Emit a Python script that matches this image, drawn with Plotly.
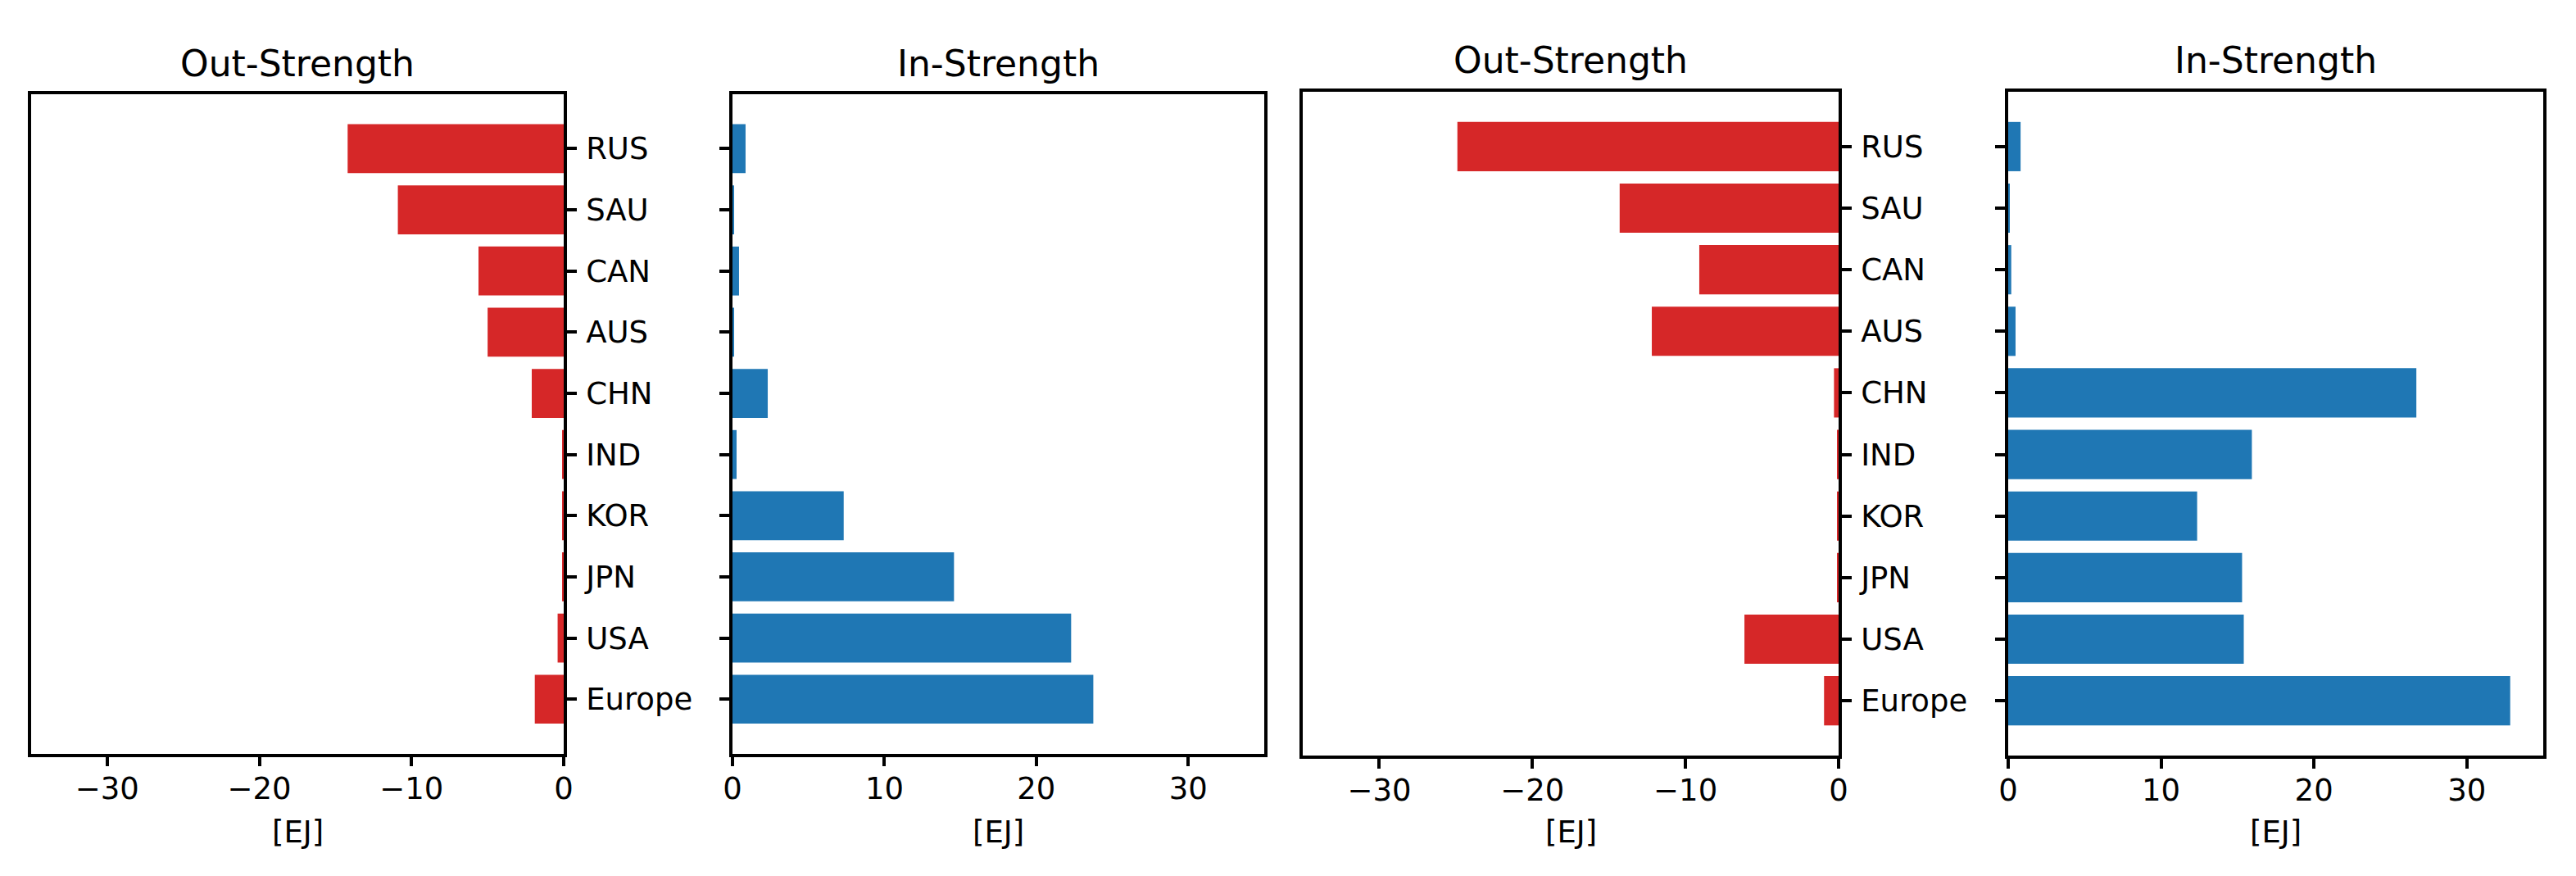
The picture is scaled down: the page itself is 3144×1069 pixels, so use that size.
import plotly.graph_objects as go

# ---- data ----
countries = ["RUS", "SAU", "CAN", "AUS", "CHN", "IND", "KOR", "JPN", "USA", "Europe"]
out_left = [-14.2, -10.9, -5.6, -5.0, -2.1, -0.06, -0.06, -0.06, -0.4, -1.9]
in_left = [0.86, 0.06, 0.43, 0.06, 2.32, 0.27, 7.32, 14.58, 22.29, 23.75]
out_right = [-24.9, -14.3, -9.1, -12.2, -0.3, -0.06, -0.06, -0.06, -6.15, -0.95]
in_right = [0.81, 0.06, 0.2, 0.48, 26.7, 15.94, 12.36, 15.3, 15.41, 32.84]
titles = ["Out-Strength", "In-Strength", "Out-Strength", "In-Strength"]
xlabel = "[EJ]"
x_ticks_out = [-30, -20, -10, 0]
x_ticks_in = [0, 10, 20, 30]

RED = "#d62728"
BLUE = "#1f77b4"
W, H = 3144, 1069
FONT = "DejaVu Sans"
OFF = 8  # page body margin offset

# panel pixel boxes in page coords (left, right, top, bottom)
boxes = [
    (38, 688, 115, 919.7),
    (894, 1543, 115, 919.7),
    (1590, 2244, 112, 922),
    (2451, 3104, 112, 922),
]
series = [out_left, in_left, out_right, in_right]
colors = [RED, BLUE, RED, BLUE]


def px(xp):
    return (xp - OFF) / W


def py(yp):
    return 1 - (yp - OFF) / H


fig = go.Figure()
cat_order = list(reversed(countries))

for i, (vals, col) in enumerate(zip(series, colors)):
    n = i + 1
    fig.add_trace(go.Bar(
        x=vals, y=countries, orientation="h",
        marker=dict(color=col, line=dict(width=0)),
        width=0.8, showlegend=False,
        xaxis=f"x{n}", yaxis=f"y{n}",
    ))

layout = dict(
    template="none",
    width=W, height=H, autosize=False,
    margin=dict(l=0, r=0, t=0, b=0, pad=0),
    paper_bgcolor="white", plot_bgcolor="white",
    font=dict(family=FONT, size=37, color="black"),
    bargap=0.2,
)

annotations = []
for i, (l, r, t, b) in enumerate(boxes):
    n = i + 1
    sfx = "" if n == 1 else str(n)
    is_out = i % 2 == 0
    xt = x_ticks_out if is_out else x_ticks_in
    layout[f"xaxis{sfx}"] = dict(
        domain=[px(l), px(r)],
        anchor=f"y{n}",
        range=[-35, 0] if is_out else [0, 35],
        tickmode="array",
        tickvals=xt,
        ticktext=[("\u2212" + str(abs(v))) if v < 0 else str(v) for v in xt],
        ticks="outside", ticklen=12, tickwidth=3.5, tickcolor="black",
        ticklabelstandoff=-5,
        showline=True, linecolor="black", linewidth=3.5, mirror=True,
        showgrid=False, zeroline=False, automargin=False,
        tickfont=dict(family=FONT, size=37, color="black"),
        fixedrange=True,
    )
    layout[f"yaxis{sfx}"] = dict(
        domain=[py(b), py(t)],
        anchor=f"x{n}",
        type="category",
        categoryorder="array", categoryarray=cat_order,
        range=[-0.89, 9.89],
        side="right" if is_out else "left",
        showticklabels=is_out,
        ticks="outside", ticklen=12, tickwidth=3.5, tickcolor="black",
        ticklabelstandoff=4,
        showline=True, linecolor="black", linewidth=3.5, mirror=True,
        showgrid=False, zeroline=False, automargin=False,
        tickfont=dict(family=FONT, size=37, color="black"),
        fixedrange=True,
    )
    cx = px((l + r) / 2)
    annotations.append(dict(
        text=titles[i], x=cx, xref="paper", y=py(t - 38), yref="paper",
        xanchor="center", yanchor="middle", showarrow=False,
        font=dict(family=FONT, size=44, color="black"),
    ))
    annotations.append(dict(
        text=xlabel, x=cx, xref="paper", y=py(1015), yref="paper",
        xanchor="center", yanchor="middle", showarrow=False,
        font=dict(family=FONT, size=37, color="black"),
    ))

layout["annotations"] = annotations
fig.update_layout(**layout)
fig.write_html("out.html")
